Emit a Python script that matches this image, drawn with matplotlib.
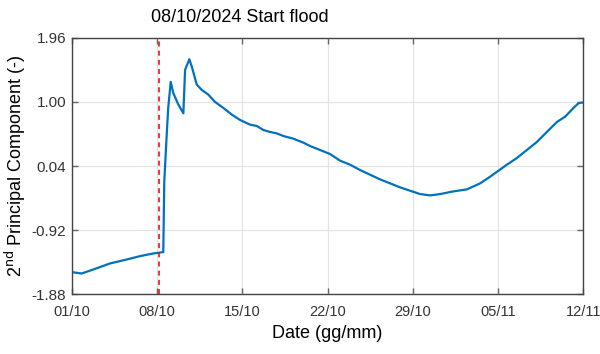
import matplotlib
matplotlib.use("Agg")
import matplotlib.pyplot as plt
import matplotlib.transforms as mtransforms
import pandas as pd

plt.rcParams['font.family'] = ['Liberation Sans', 'DejaVu Sans']

# days since 01/10/2024 and 2nd principal component
days = [0.0, 0.8, 1.75, 3.12, 4.5, 5.59, 6.68, 7.5,
        7.58, 7.75, 7.9, 8.11, 8.33, 8.74, 9.15,
        9.29, 9.64, 9.84, 10.25, 10.66, 11.2, 11.75, 12.44, 13.13, 13.81,
        14.63, 15.18, 15.72, 16.27, 16.82, 17.36, 18.18, 19.01, 19.56,
        20.38, 21.2, 22.03, 22.85, 23.67, 24.49, 25.31, 26.14, 26.96,
        27.78, 28.6, 29.42, 30.25, 31.34, 32.44, 33.53, 34.35, 35.04,
        35.73, 36.55, 37.37, 38.19, 39.01, 39.84, 40.52, 41.2, 41.61, 41.89]
values = [-1.55, -1.57, -1.51, -1.42, -1.36, -1.31, -1.27, -1.25,
          -0.2, 0.4, 0.9, 1.30, 1.13, 0.96, 0.83,
          1.48, 1.64, 1.53, 1.26, 1.18, 1.11, 1.00, 0.91, 0.81, 0.73,
          0.66, 0.64, 0.58, 0.55, 0.53, 0.49, 0.45, 0.39, 0.34,
          0.28, 0.22, 0.12, 0.06, -0.02, -0.09, -0.16, -0.22, -0.28,
          -0.33, -0.38, -0.40, -0.38, -0.34, -0.31, -0.22, -0.12, -0.03,
          0.06, 0.16, 0.28, 0.40, 0.55, 0.70, 0.78, 0.91, 0.98, 0.99]

flood_day = 7.15
yticks = [-1.88, -0.92, 0.04, 1.00, 1.96]
xtick_labels = ['01/10', '08/10', '15/10', '22/10', '29/10', '05/11', '12/11']

start = pd.Timestamp('2024-10-01')
dates = start + pd.to_timedelta(days, unit='D')
xticks = [pd.to_datetime(d + '/2024', format='%d/%m/%Y') for d in xtick_labels]

fig = plt.figure(figsize=(6, 3.54), dpi=100)
ax = fig.add_axes([0.12, 0.169, 0.852, 0.724])

ax.plot(dates, values, color='#0072BD', lw=1.6)
flood = start + pd.Timedelta(days=flood_day)
ax.axvline(flood, color='#E8141B', ls=(0, (3, 2.5)), lw=1.2, zorder=3)

ax.set_xlim(xticks[0], xticks[-1])
ax.set_ylim(-1.88, 1.96)
ax.set_yticks(yticks)
ax.set_yticklabels(['%.2f' % v for v in yticks])
ax.set_xticks(xticks)
ax.set_xticklabels(xtick_labels)

ax.grid(True, color='#e4e4e4', lw=0.9)
ax.set_axisbelow(True)
ax.tick_params(direction='in', length=4, width=1, color='#666666',
               labelsize=11, labelcolor='#333333', top=True, right=True, pad=4)
ax.tick_params(axis='x', pad=8, labelsize=10.5)
for s in ax.spines.values():
    s.set_color('#444444')
    s.set_linewidth(1.0)

ax.set_xlabel('Date (gg/mm)', fontsize=13, labelpad=4)
ax.set_ylabel('2$^{\\mathrm{nd}}$ Principal Component (-)', fontsize=13, labelpad=3)

trans = mtransforms.blended_transform_factory(ax.transData, ax.transAxes)
ax.text(start + pd.Timedelta(days=13.8), 1.078, '08/10/2024 Start flood',
        fontsize=13, ha='center', va='center', transform=trans)

fig.savefig('out.png', dpi=100)
